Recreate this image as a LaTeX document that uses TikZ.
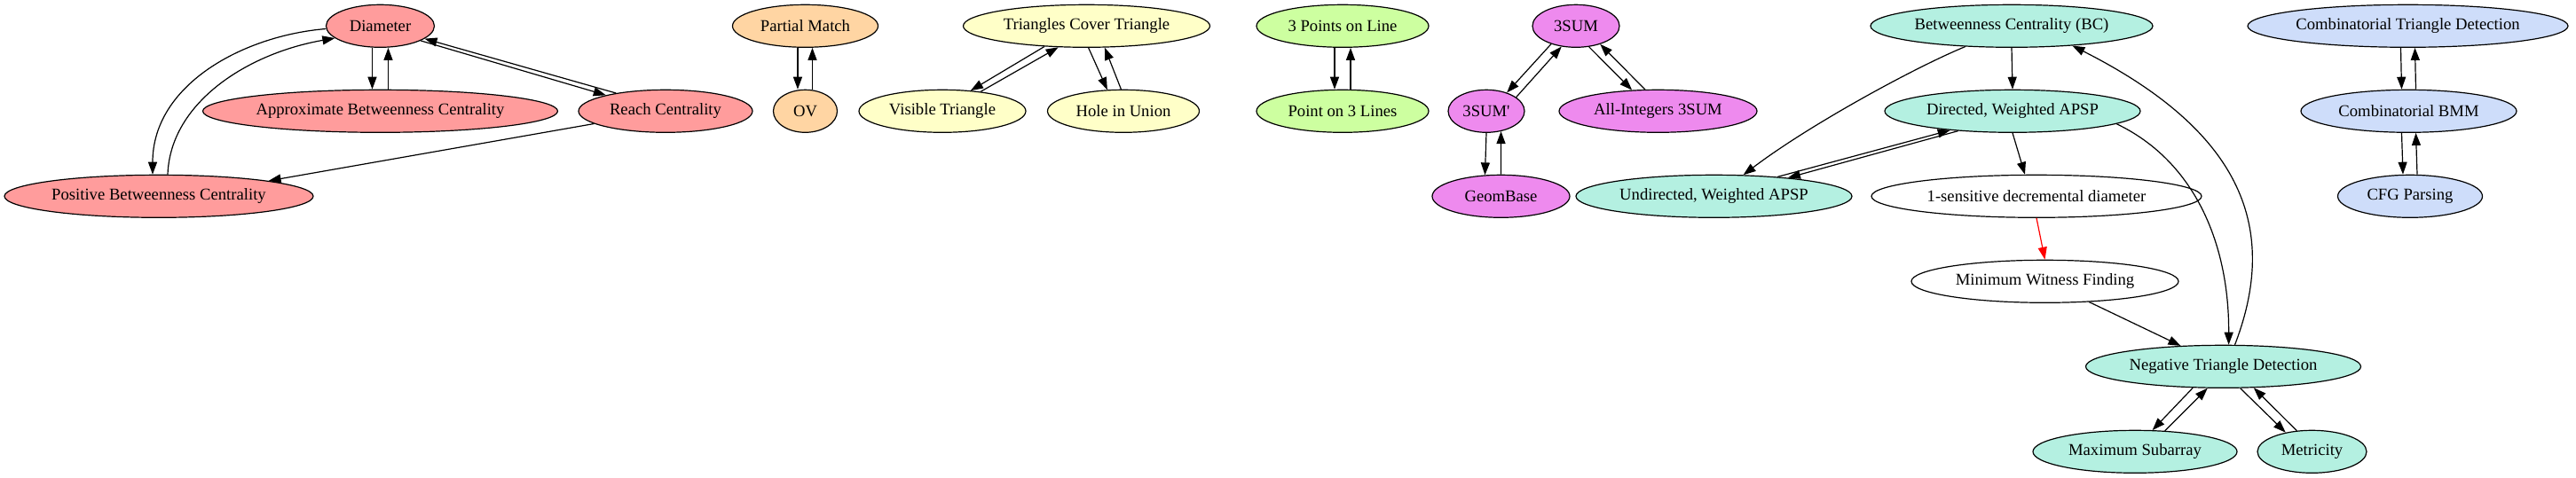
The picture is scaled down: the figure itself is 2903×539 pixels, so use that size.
\documentclass[tikz,border=0pt]{standalone}
\usepackage{fontspec}
\setmainfont{Liberation Serif}[Ligatures=TeXOff]
\usetikzlibrary{shapes.geometric,arrows.meta}
\definecolor{cpink}{HTML}{FF9C9C}
\definecolor{corange}{HTML}{FFD5A3}
\definecolor{cyellow}{HTML}{FFFFC8}
\definecolor{cgreen}{HTML}{CDFFA0}
\definecolor{cpurple}{HTML}{EE8AEE}
\definecolor{cteal}{HTML}{B4F0E1}
\definecolor{cblue}{HTML}{CEDDFA}
\begin{document}
\begin{tikzpicture}[x=0.75pt,y=-0.75pt,
  nd/.style={ellipse,draw,line width=0.9pt,inner sep=0pt,minimum height=36pt,font=\fontsize{14}{16}\selectfont},
  ed/.style={-{Triangle[length=10.5pt,width=7.5pt]},line width=0.9pt}]
\useasboundingbox (0,0) rectangle (2903,539);
% nodes
\node[nd,fill=cpink,minimum width=91.5pt] (dia) at (428.5,29.3) {Diameter};
\node[nd,fill=cpink,minimum width=300pt] (abc) at (428.5,125.3) {Approximate Betweenness Centrality};
\node[nd,fill=cpink,minimum width=147pt] (reach) at (750,125.3) {Reach Centrality};
\node[nd,fill=cpink,minimum width=261pt] (pbc) at (179,221.3) {Positive Betweenness Centrality};
\node[nd,fill=corange,minimum width=123pt] (pm) at (907.5,29.3) {Partial Match};
\node[nd,fill=corange,minimum width=54pt] (ov) at (907.5,125.3) {OV};
\node[nd,fill=cyellow,minimum width=208.5pt] (tct) at (1224.5,29.3) {Triangles Cover Triangle};
\node[nd,fill=cyellow,minimum width=141pt] (vt) at (1062,125.3) {Visible Triangle};
\node[nd,fill=cyellow,minimum width=128.25pt] (hu) at (1266,125.3) {Hole in Union};
\node[nd,fill=cgreen,minimum width=145.5pt] (p3l) at (1513,29.3) {3 Points on Line};
\node[nd,fill=cgreen,minimum width=145.5pt] (pt3) at (1513,125.3) {Point on 3 Lines};
\node[nd,fill=cpurple,minimum width=73.5pt] (s3) at (1776,29.3) {3SUM};
\node[nd,fill=cpurple,minimum width=64.5pt] (s3p) at (1675,125.3) {3SUM'};
\node[nd,fill=cpurple,minimum width=167.25pt] (ai3) at (1868.5,125.3) {All-Integers 3SUM};
\node[nd,fill=cpurple,minimum width=116.25pt] (geo) at (1691.5,221.3) {GeomBase};
\node[nd,fill=cteal,minimum width=233.25pt] (uapsp) at (1931.5,221.3) {Undirected, Weighted APSP};
\node[nd,fill=cteal,minimum width=238.5pt] (bc) at (2267,29.3) {Betweenness Centrality (BC)};
\node[nd,fill=cteal,minimum width=216pt] (dapsp) at (2268,125.3) {Directed, Weighted APSP};
\node[nd,fill=white,minimum width=279pt] (sens) at (2295,221.3) {1-sensitive decremental diameter};
\node[nd,fill=white,minimum width=225.75pt] (mwf) at (2304.5,317.3) {Minimum Witness Finding};
\node[nd,fill=cteal,minimum width=232.5pt] (ntd) at (2505.5,413.3) {Negative Triangle Detection};
\node[nd,fill=cteal,minimum width=172.5pt] (ms) at (2406,509.3) {Maximum Subarray};
\node[nd,fill=cteal,minimum width=92.25pt] (met) at (2605.5,509.3) {Metricity};
\node[nd,fill=cblue,minimum width=270.75pt] (ctd) at (2713.5,29.3) {Combinatorial Triangle Detection};
\node[nd,fill=cblue,minimum width=182.25pt] (cbmm) at (2714.5,125.3) {Combinatorial BMM};
\node[nd,fill=cblue,minimum width=122.25pt] (cfg) at (2716,221.3) {CFG Parsing};
% edges: red group
\draw[ed] ([xshift=-6.75pt]dia.south) -- ([xshift=-6.75pt]abc.north);
\draw[ed] ([xshift=6.75pt]abc.north) -- ([xshift=6.75pt]dia.south);
\draw[ed] (dia.340) -- (reach.165);
\draw[ed] (reach.160) -- (dia.344);
\draw[ed] (dia.183) .. controls (275,40) and (172,95) .. ([xshift=-5.25pt]pbc.north);
\draw[ed] ([xshift=7.5pt]pbc.north) .. controls (192,115) and (280,60) .. (dia.195);
\draw[ed] (reach.190) -- (pbc.8);
% orange
\draw[ed] ([xshift=-6.4pt]pm.south) -- ([xshift=-6.4pt]ov.north);
\draw[ed] ([xshift=6pt]ov.north) -- ([xshift=6pt]pm.south);
% yellow
\draw[ed] (tct.206) -- (vt.36);
\draw[ed] (vt.27) -- (tct.217);
\draw[ed] (tct.275) -- (hu.127);
\draw[ed] (hu.96) -- (tct.310);
% green
\draw[ed] ([xshift=-6.75pt]p3l.south) -- ([xshift=-6.75pt]pt3.north);
\draw[ed] ([xshift=6.75pt]pt3.north) -- ([xshift=6.75pt]p3l.south);
% purple
\draw[ed] (s3.216) -- (s3p.42);
\draw[ed] (s3p.25) -- (s3.235);
\draw[ed] (s3.302) -- (ai3.141);
\draw[ed] (ai3.121) -- (s3.323);
\draw[ed] (s3p.south) -- (geo.127);
\draw[ed] (geo.north) -- (s3p.306);
% teal
\draw[ed] (bc.south) -- (dapsp.north);
\draw[ed] (bc.204) .. controls (2160,75) and (2040,140) .. (uapsp.36);
\draw[ed] (dapsp.200) -- (uapsp.14);
\draw[ed] (uapsp.17) -- (dapsp.197);
\draw[ed] (dapsp.south) -- (sens.118);
\draw[ed] (dapsp.353) .. controls (2470,180) and (2512,270) .. (ntd.76);
\draw[ed] (ntd.62) .. controls (2568,260) and (2530,150) .. (bc.342);
\draw[ed,red] (sens.south) -- (mwf.north);
\draw[ed] (mwf.335) -- (ntd.154);
\draw[ed] (ntd.215) -- (ms.51);
\draw[ed] (ms.35) -- (ntd.234);
\draw[ed] (ntd.308) -- (met.144);
\draw[ed] (met.126) -- (ntd.325);
% blue
\draw[ed] ([xshift=-6pt]ctd.south) -- ([xshift=-6pt]cbmm.north);
\draw[ed] ([xshift=6pt]cbmm.north) -- ([xshift=6pt]ctd.south);
\draw[ed] ([xshift=-6pt]cbmm.south) -- ([xshift=-6pt]cfg.north);
\draw[ed] ([xshift=6pt]cfg.north) -- ([xshift=6pt]cbmm.south);
\end{tikzpicture}
\end{document}
